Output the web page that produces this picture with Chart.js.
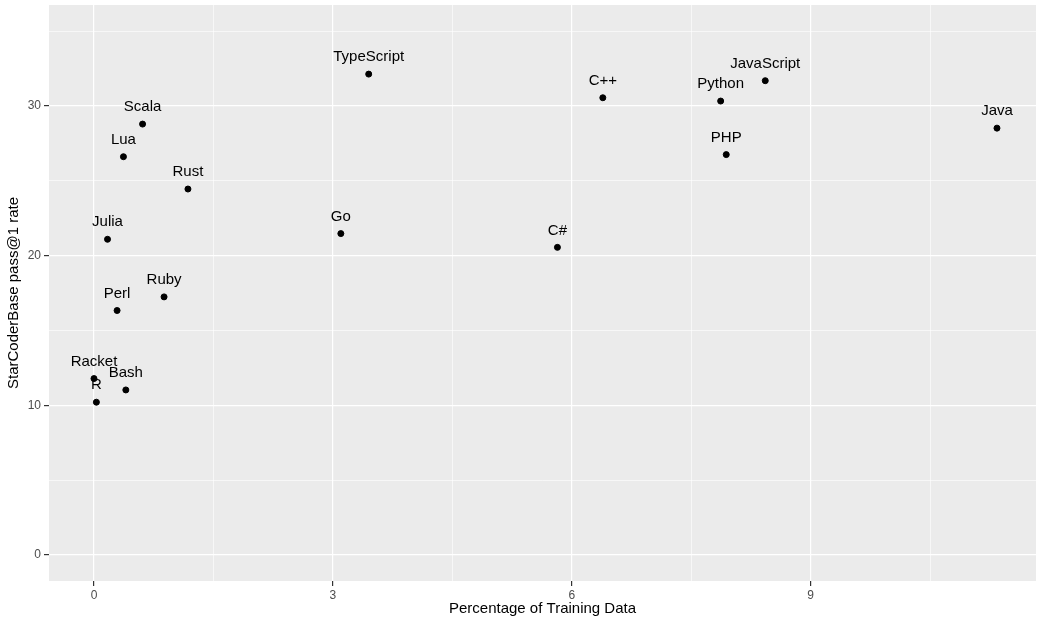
<!DOCTYPE html>
<html>
<head>
<meta charset="utf-8">
<script src="https://cdn.jsdelivr.net/npm/chart.js@4/dist/chart.umd.min.js"></script>
<style>
  body { margin: 0; background: #fff; }
  canvas { display: block; }
</style>
</head>
<body>
<canvas id="plot" width="1042" height="621"></canvas>
<script>
// languages and their values
var languages = ["Racket", "R", "Bash", "Perl", "Ruby", "Julia", "Rust", "Lua", "Scala",
                 "Go", "TypeScript", "C#", "C++", "Python", "PHP", "JavaScript", "Java"];
var trainingShare = [0.00, 0.03, 0.40, 0.29, 0.88, 0.17, 1.18, 0.37, 0.61,
                     3.10, 3.45, 5.82, 6.39, 7.87, 7.94, 8.43, 11.34];
var passRate = [11.78, 10.20, 11.02, 16.33, 17.24, 21.09, 24.45, 26.61, 28.79,
                21.47, 32.13, 20.55, 30.55, 30.33, 26.75, 31.69, 28.52];

var xMajorTicks = [0, 3, 6, 9];
var xMinorTicks = [1.5, 4.5, 7.5, 10.5];
var yMajorTicks = [0, 10, 20, 30];
var yMinorTicks = [5, 15, 25, 35];

var FONT = "'Liberation Sans', Arial, Helvetica, sans-serif";

const isMajor = (majors, v) => majors.indexOf(v) !== -1;

// grey ggplot panel behind the grid
const panelBg = {
    id: "panelBg",
    beforeDraw: (chart) => {
        var a = chart.chartArea;
        var ctx = chart.ctx;
        ctx.save();
        ctx.fillStyle = "#EBEBEB";
        ctx.fillRect(a.left, a.top, a.right - a.left, a.bottom - a.top);
        ctx.restore();
    }
};

// text labels above every point
const pointLabels = {
    id: "pointLabels",
    afterDatasetsDraw: (chart) => {
        var ctx = chart.ctx;
        var meta = chart.getDatasetMeta(0);
        ctx.save();
        ctx.font = "15px " + FONT;
        ctx.fillStyle = "#000";
        ctx.textAlign = "center";
        ctx.textBaseline = "middle";
        meta.data.forEach((pt, i) => {
            ctx.fillText(languages[i], pt.x, pt.y - 17);
        });
        ctx.restore();
    }
};

const gridFor = (majors) => ({
    color: "#FFFFFF",
    lineWidth: (c) => (c.tick && isMajor(majors, c.tick.value)) ? 1.2 : 0.6,
    tickColor: (c) => (c.tick && isMajor(majors, c.tick.value)) ? "#333333" : "rgba(0,0,0,0)",
    tickLength: 5,
    drawTicks: true
});

var points = trainingShare.map((x, i) => ({ x: x, y: passRate[i] }));

new Chart("plot", {
    type: "scatter",
    data: {
        datasets: [{
            data: points,
            backgroundColor: "#000",
            borderColor: "#000",
            pointRadius: 3,
            pointHoverRadius: 3
        }]
    },
    options: {
        responsive: false,
        animation: false,
        layout: { padding: { top: 0, right: 6, left: 0, bottom: 0 } },
        plugins: {
            legend: { display: false },
            tooltip: { enabled: false }
        },
        scales: {
            x: {
                type: "linear",
                min: -0.565,
                max: 11.83,
                afterBuildTicks: (s) => {
                    s.ticks = xMajorTicks.concat(xMinorTicks).sort((a, b) => a - b).map(v => ({ value: v }));
                },
                afterFit: (s) => { s.height = 40; },
                grid: gridFor(xMajorTicks),
                border: { display: false },
                ticks: {
                    color: "#4D4D4D",
                    font: { size: 12, family: FONT },
                    padding: 2,
                    maxRotation: 0,
                    autoSkip: false,
                    callback: (v) => isMajor(xMajorTicks, v) ? String(v) : ""
                },
                title: {
                    display: true,
                    text: "Percentage of Training Data",
                    color: "#000",
                    font: { size: 15, family: FONT },
                    padding: { top: 0, bottom: 3 }
                }
            },
            y: {
                type: "linear",
                min: -1.75,
                max: 36.75,
                afterBuildTicks: (s) => {
                    s.ticks = yMajorTicks.concat(yMinorTicks).sort((a, b) => a - b).map(v => ({ value: v }));
                },
                afterFit: (s) => { s.width = 49; s.paddingTop = 5; s.paddingBottom = 0; },
                grid: gridFor(yMajorTicks),
                border: { display: false },
                ticks: {
                    color: "#4D4D4D",
                    font: { size: 12, family: FONT },
                    padding: 3,
                    autoSkip: false,
                    callback: (v) => isMajor(yMajorTicks, v) ? String(v) : ""
                },
                title: {
                    display: true,
                    text: "StarCoderBase pass@1 rate",
                    color: "#000",
                    font: { size: 15, family: FONT },
                    padding: { top: 5, bottom: 0 }
                }
            }
        }
    },
    plugins: [panelBg, pointLabels]
});
</script>
</body>
</html>
